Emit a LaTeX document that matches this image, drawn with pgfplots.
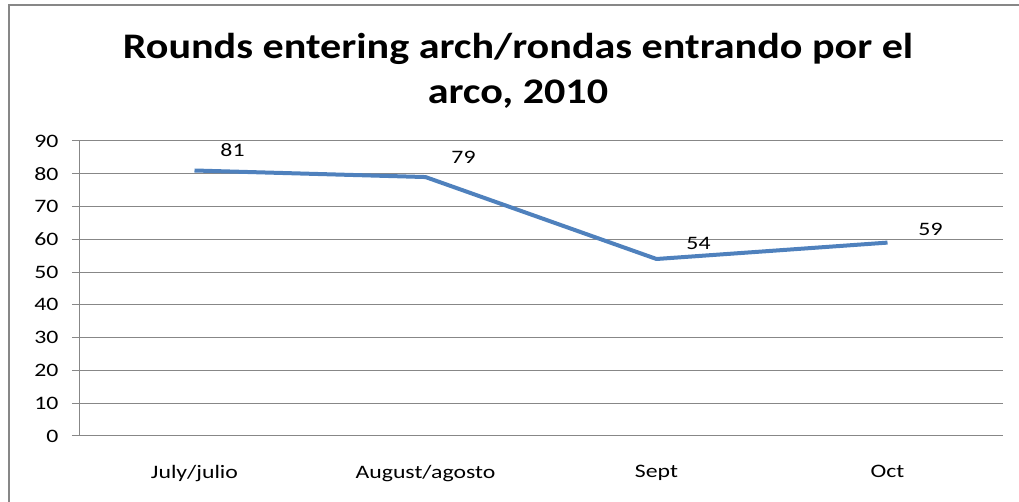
\documentclass[border=0pt]{standalone}
\usepackage{pgfplots}
\usepackage{pgfplotstable}
\pgfplotsset{compat=1.18}
\usepackage{fontspec}
\setmainfont[FakeStretch=1.25]{Carlito}
\newfontfamily\titlefont[FakeStretch=1.17]{Carlito}
\definecolor{linec}{HTML}{4F81BD}
\definecolor{gridc}{HTML}{878787}
\pgfplotstableread{
x y dx dy
0 81 38 20
1 79 38 20
2 54 42 16
3 59 43 13
}\datatable
\begin{document}
\begin{tikzpicture}[x=1pt,y=1pt]
\useasboundingbox (0pt,0pt) rectangle (1019pt,502pt);
\draw[gridc, line width=2pt] (9pt,0pt) -- (9pt,497pt) -- (1019pt,497pt);
\node[font=\titlefont\fontsize{36}{45}\selectfont\bfseries, align=center] at (518pt,431.5pt) {Rounds entering arch/rondas entrando por el\\arco, 2010};
\begin{axis}[
  at={(79pt,66pt)}, anchor=south west,
  scale only axis, width=924pt, height=295pt,
  xmin=-0.5, xmax=3.5, ymin=0, ymax=90,
  xtick={0,1,2,3},
  xticklabels={July/julio,August/agosto,Sept,Oct},
  minor xtick={-0.5,0.5,1.5,2.5,3.5},
  ytick={0,10,...,90},
  axis x line*=bottom, axis y line*=left,
  axis line style={gridc, line width=1pt},
  x axis line style={-}, y axis line style={-},
  tick align=outside,
  major tick length=7pt, minor tick length=6pt,
  xtick style={draw=none},
  minor x tick style={gridc, line width=1pt},
  ytick style={gridc, line width=1pt},
  ymajorgrids, grid style={gridc, line width=1pt},
  tick label style={font=\fontsize{19}{22}\selectfont, text=black},
  /pgf/number format/assume math mode=true,
  xticklabel style={yshift=-19pt},
  yticklabel style={xshift=-10pt},
  clip=false,
]
\addplot[linec, line width=4pt, line join=round,
  visualization depends on={\thisrow{dx} \as \dx},
  visualization depends on={\thisrow{dy} \as \dy},
  nodes near coords,
  every node near coord/.append style={anchor=center, xshift=\dx pt, yshift=\dy pt, font=\fontsize{19}{22}\selectfont, text=black},
] table[x=x, y=y] {\datatable};
\end{axis}
\end{tikzpicture}
\end{document}
